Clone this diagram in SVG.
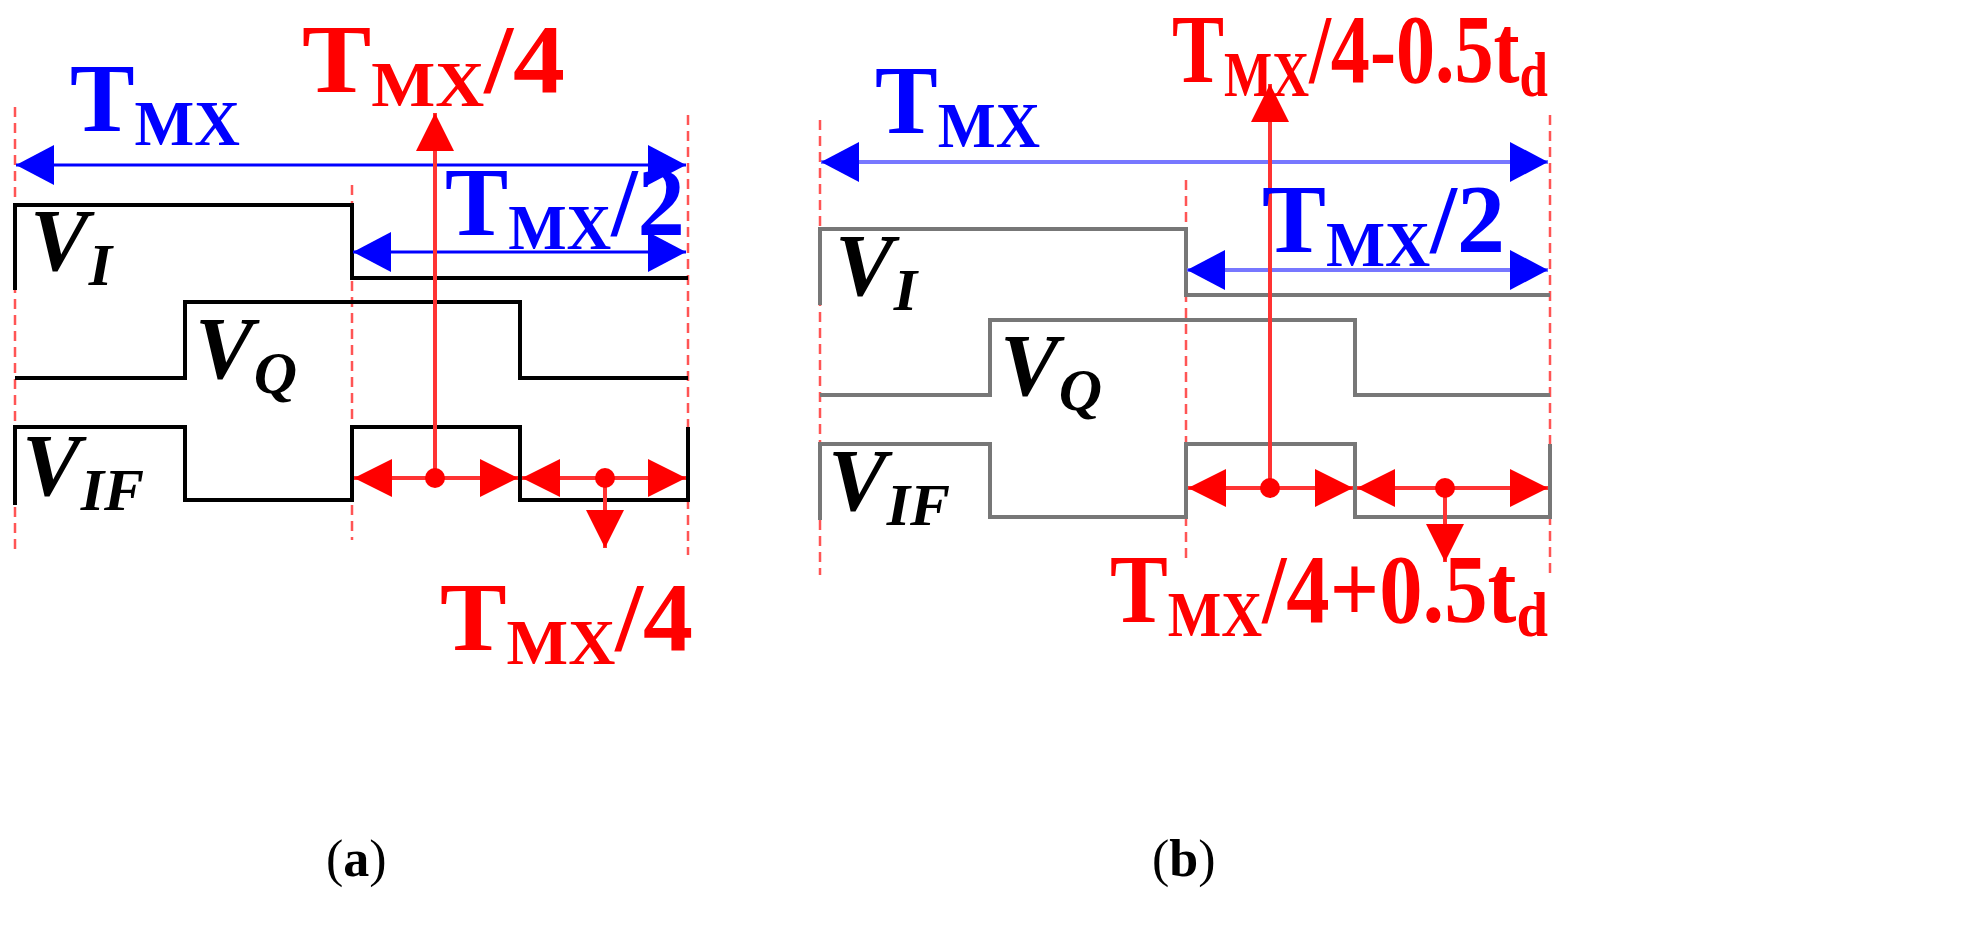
<svg xmlns="http://www.w3.org/2000/svg" width="1985" height="951" viewBox="0 0 1985 951">
<style>
.dash{stroke:#ff5555;stroke-width:2.5;stroke-dasharray:10,6;fill:none}
.sig{stroke:#000;stroke-width:4;fill:none}
.sigb{stroke:#777;stroke-width:4;fill:none}
.blue{stroke:#0000ff;stroke-width:3;fill:none}
.blueb{stroke:#7777ff;stroke-width:4;fill:none}
.red{stroke:#ff3333;stroke-width:4;fill:none}
.tb{font-family:"Liberation Serif",serif;font-weight:bold;fill:#0000ff}
.tr{font-family:"Liberation Serif",serif;font-weight:bold;fill:#ff0000}
.tv{font-family:"Liberation Serif",serif;font-weight:bold;font-style:italic;fill:#000}
.cap{font-family:"Liberation Serif",serif;font-size:52px;fill:#000}
</style>
<defs>
<marker id="ab" viewBox="0 0 10 10" refX="10" refY="5" markerWidth="38" markerHeight="40" markerUnits="userSpaceOnUse" orient="auto-start-reverse" preserveAspectRatio="none"><path d="M0,0L10,5L0,10z" fill="#0000ff"/></marker>
<marker id="ar" viewBox="0 0 10 10" refX="10" refY="5" markerWidth="38" markerHeight="38" markerUnits="userSpaceOnUse" orient="auto-start-reverse" preserveAspectRatio="none"><path d="M0,0L10,5L0,10z" fill="#ff0000"/></marker>
</defs>
<g id="panel-a">
<g id="guides-a">
<line class="dash" x1="15" y1="107" x2="15" y2="555"/>
<line class="dash" x1="352" y1="185" x2="352" y2="540"/>
<line class="dash" x1="688" y1="115" x2="688" y2="555"/>
</g>
<g id="signals-a">
<path class="sig" d="M15,290V205H352V278H688"/>
<path class="sig" d="M15,378H185V302H520V378H688"/>
<path class="sig" d="M15,505V427H185V500H352V427H520V500H688V427"/>
</g>
<g id="connectors-a">
<line class="blue" x1="16" y1="165" x2="686" y2="165" marker-start="url(#ab)" marker-end="url(#ab)"/>
<line class="blue" x1="353" y1="252" x2="686" y2="252" marker-start="url(#ab)" marker-end="url(#ab)"/>
<line class="red" x1="435" y1="478" x2="435" y2="113" marker-end="url(#ar)"/>
<line class="red" x1="354" y1="478" x2="518" y2="478" marker-start="url(#ar)" marker-end="url(#ar)"/>
<line class="red" x1="522" y1="478" x2="686" y2="478" marker-start="url(#ar)" marker-end="url(#ar)"/>
<line class="red" x1="605" y1="478" x2="605" y2="548" marker-end="url(#ar)"/>
<circle cx="435" cy="478" r="10" fill="#ff0000"/>
<circle cx="605" cy="478" r="10" fill="#ff0000"/>
</g>
<text class="tb" x="70" y="131" font-size="98" textLength="170" lengthAdjust="spacingAndGlyphs">T<tspan font-size="64" dy="14">MX</tspan></text>
<text class="tr" x="302" y="92" font-size="98" textLength="263" lengthAdjust="spacingAndGlyphs">T<tspan font-size="64" dy="14">MX</tspan><tspan dy="-14">/4</tspan></text>
<text class="tb" x="445" y="235" font-size="98" textLength="240" lengthAdjust="spacingAndGlyphs">T<tspan font-size="64" dy="14">MX</tspan><tspan dy="-14">/2</tspan></text>
<text class="tr" x="440" y="650" font-size="98" textLength="253" lengthAdjust="spacingAndGlyphs">T<tspan font-size="64" dy="14">MX</tspan><tspan dy="-14">/4</tspan></text>
<text class="tv" x="30" y="270" font-size="88">V<tspan font-size="60" dy="15">I</tspan></text>
<text class="tv" x="195" y="378" font-size="88">V<tspan font-size="60" dy="15">Q</tspan></text>
<text class="tv" x="22" y="495" font-size="88">V<tspan font-size="60" dy="15">IF</tspan></text>
<text class="cap" x="326" y="876">(<tspan font-weight="bold">a</tspan>)</text>
</g>
<g id="panel-b">
<g id="guides-b">
<line class="dash" x1="820" y1="120" x2="820" y2="575"/>
<line class="dash" x1="1186" y1="180" x2="1186" y2="560"/>
<line class="dash" x1="1550" y1="115" x2="1550" y2="575"/>
</g>
<g id="signals-b">
<path class="sigb" d="M820,305V229H1186V295H1550"/>
<path class="sigb" d="M820,395H990V320H1355V395H1550"/>
<path class="sigb" d="M820,520V444H990V517H1186V444H1355V517H1550V444"/>
</g>
<g id="connectors-b">
<line class="blueb" x1="821" y1="162" x2="1548" y2="162" marker-start="url(#ab)" marker-end="url(#ab)"/>
<line class="blueb" x1="1187" y1="270" x2="1548" y2="270" marker-start="url(#ab)" marker-end="url(#ab)"/>
<line class="red" x1="1270" y1="488" x2="1270" y2="84" marker-end="url(#ar)"/>
<line class="red" x1="1188" y1="488" x2="1353" y2="488" marker-start="url(#ar)" marker-end="url(#ar)"/>
<line class="red" x1="1357" y1="488" x2="1548" y2="488" marker-start="url(#ar)" marker-end="url(#ar)"/>
<line class="red" x1="1445" y1="488" x2="1445" y2="562" marker-end="url(#ar)"/>
<circle cx="1270" cy="488" r="10" fill="#ff0000"/>
<circle cx="1445" cy="488" r="10" fill="#ff0000"/>
</g>
<text class="tb" x="875" y="133" font-size="98" textLength="165" lengthAdjust="spacingAndGlyphs">T<tspan font-size="64" dy="14">MX</tspan></text>
<text class="tr" x="1172" y="82" font-size="98" textLength="376" lengthAdjust="spacingAndGlyphs">T<tspan font-size="64" dy="14">MX</tspan><tspan dy="-14">/4-0.5t</tspan><tspan font-size="64" dy="14">d</tspan></text>
<text class="tb" x="1262" y="252" font-size="98" textLength="243" lengthAdjust="spacingAndGlyphs">T<tspan font-size="64" dy="14">MX</tspan><tspan dy="-14">/2</tspan></text>
<text class="tr" x="1110" y="622" font-size="98" textLength="438" lengthAdjust="spacingAndGlyphs">T<tspan font-size="64" dy="14">MX</tspan><tspan dy="-14">/4+0.5t</tspan><tspan font-size="64" dy="14">d</tspan></text>
<text class="tv" x="835" y="295" font-size="88">V<tspan font-size="60" dy="15">I</tspan></text>
<text class="tv" x="1000" y="395" font-size="88">V<tspan font-size="60" dy="15">Q</tspan></text>
<text class="tv" x="828" y="510" font-size="88">V<tspan font-size="60" dy="15">IF</tspan></text>
<text class="cap" x="1152" y="876">(<tspan font-weight="bold">b</tspan>)</text>
</g>
</svg>
